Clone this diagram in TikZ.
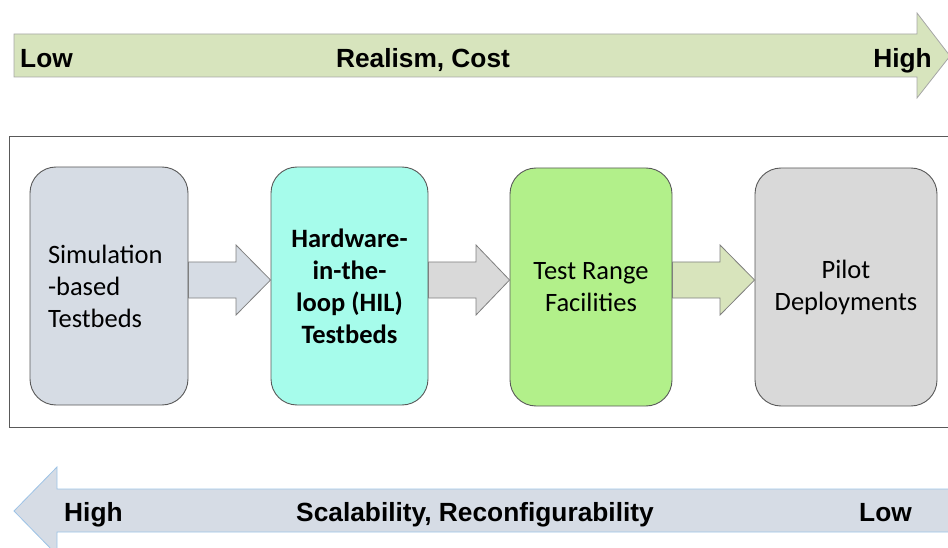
\documentclass[tikz,border=0pt]{standalone}
\usepackage{fontspec}
\setmainfont{Carlito}
\newfontfamily\arialfont{Liberation Sans}
\usetikzlibrary{calc}

\definecolor{topfill}{HTML}{D7E4BD}
\definecolor{topline}{HTML}{A6A6A6}
\definecolor{botfill}{HTML}{D6DCE5}
\definecolor{botline}{HTML}{9DC3E6}
\definecolor{simfill}{HTML}{D6DCE4}
\definecolor{hilfill}{HTML}{A6FCEB}
\definecolor{rangefill}{HTML}{B2F08A}
\definecolor{pilotfill}{HTML}{D9D9D9}
\definecolor{blueconn}{HTML}{D6DCE4}
\definecolor{grayconn}{HTML}{D9D9D9}
\definecolor{greenconn}{HTML}{D8E4BC}
\definecolor{boxline}{HTML}{595959}
\definecolor{connline}{HTML}{7F7F7F}

\tikzset{
  stagebox/.style={draw=boxline, line width=0.9pt, rounded corners=26pt,
    minimum height=238pt, inner sep=0pt, align=center,
    font=\fontsize{26.5}{32}\selectfont},
  blockconn/.style={draw=connline, line width=0.8pt, line join=miter},
  scalelabel/.style={inner sep=0pt, font=\arialfont\bfseries\fontsize{26.3}{30}\selectfont},
}

\begin{document}
\begin{tikzpicture}[x=1pt, y=-1pt]
\useasboundingbox (0,0) rectangle (948,548);

% upper scale: realism and cost
\draw[fill=topfill, draw=topline, line width=0.8pt]
  (14,34) -- (917,34) -- (917,13) -- (950,56) -- (917,98) -- (917,77) -- (14,77) -- cycle;
\node[scalelabel, anchor=base west] (tlow) at (20,68) {Low};
\node[scalelabel, anchor=base] (tmid) at (423,68) {Realism, Cost};
\node[scalelabel, anchor=base east] (thigh) at (932,68) {High};

% frame around the stages
\draw[draw=boxline, line width=0.9pt] (9.5,136) rectangle (952,427);

% stages
\node[stagebox, fill=simfill, minimum width=158pt, text width=122pt, align=left] (sim) at (109,286)
  {Simulation\\-based\\Testbeds};
\node[stagebox, fill=hilfill, minimum width=157pt, font=\bfseries\fontsize{26.5}{32}\selectfont] (hil) at (349.5,286)
  {Hardware-\\in-the-\\loop (HIL)\\Testbeds};
\node[stagebox, fill=rangefill, minimum width=162pt] (range) at (591,287)
  {Test Range\\Facilities};
\node[stagebox, fill=pilotfill, minimum width=182pt] (pilot) at (846,287)
  {Pilot\\Deployments};

% block arrows between stages
\draw[blockconn, fill=blueconn]
  (sim.east |- 0,262) -- (236,262) -- (236,245) -- (hil.west |- 0,280)
  -- (236,315) -- (236,298) -- (sim.east |- 0,298) -- cycle;
\draw[blockconn, fill=grayconn]
  (hil.east |- 0,262) -- (476,262) -- (476,245) -- (range.west |- 0,280)
  -- (476,315) -- (476,298) -- (hil.east |- 0,298) -- cycle;
\draw[blockconn, fill=greenconn]
  (range.east |- 0,262) -- (720,262) -- (720,245) -- (pilot.west |- 0,280)
  -- (720,315) -- (720,298) -- (range.east |- 0,298) -- cycle;

% lower scale: scalability and reconfigurability
\draw[fill=botfill, draw=botline, line width=0.8pt]
  (952,489) -- (57,489) -- (57,467) -- (14,511) -- (57,555) -- (57,532) -- (952,532) -- cycle;
\node[scalelabel, anchor=base west] (bhigh) at (64,521) {High};
\node[scalelabel, anchor=base] (bmid) at (475,521) {Scalability, Reconfigurability};
\node[scalelabel, anchor=base east] (blow) at (912,521) {Low};
\end{tikzpicture}
\end{document}
